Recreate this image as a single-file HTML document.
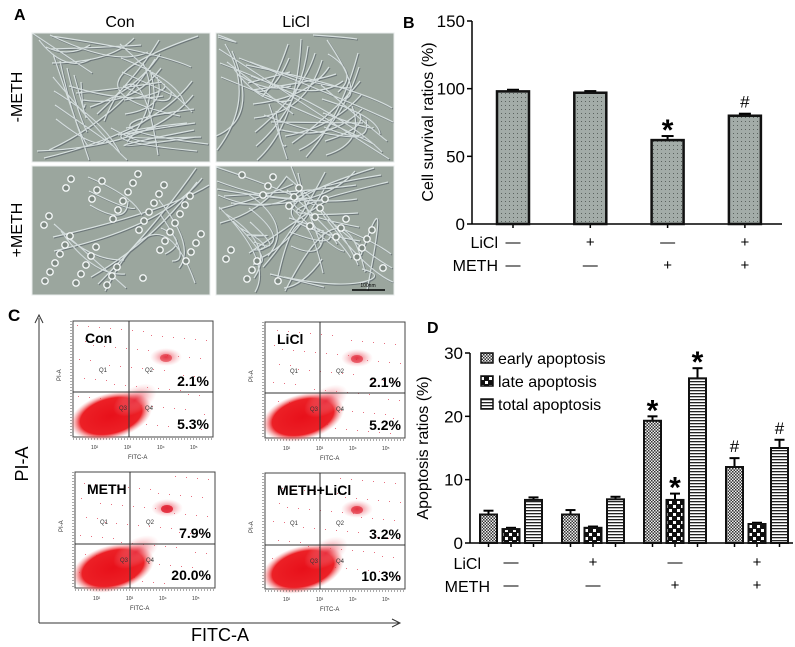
<!DOCTYPE html>
<html><head><meta charset="utf-8">
<style>
html,body{margin:0;padding:0;background:#fff;}
svg{display:block;font-family:"Liberation Sans",Arial,sans-serif;}
</style></head>
<body>
<svg id="fig" width="795" height="647" viewBox="0 0 795 647" xmlns="http://www.w3.org/2000/svg">
<defs>
  <pattern id="dots" width="4" height="4" patternUnits="userSpaceOnUse">
    <rect width="4" height="4" fill="#a3aca8"/><rect x="1" y="1" width="1" height="1" fill="#5a625e"/>
  </pattern>
  <pattern id="fine" width="3" height="3" patternUnits="userSpaceOnUse">
    <rect width="3" height="3" fill="#eee"/><rect width="1.5" height="1.5" fill="#333"/><rect x="1.5" y="1.5" width="1.5" height="1.5" fill="#333"/>
  </pattern>
  <pattern id="coarse" width="8" height="8" patternUnits="userSpaceOnUse">
    <rect width="8" height="8" fill="#111"/><rect x="1" y="1" width="3" height="3" fill="#fff"/><rect x="5" y="5" width="3" height="3" fill="#fff"/>
  </pattern>
  <pattern id="stripes" width="3" height="3" patternUnits="userSpaceOnUse">
    <rect width="3" height="3" fill="#fff"/><rect width="3" height="1.3" fill="#222"/>
  </pattern>
  <radialGradient id="blob"><stop offset="0" stop-color="#e8101a"/><stop offset="0.75" stop-color="#ec2026"/><stop offset="1" stop-color="#f39090" stop-opacity="0"/></radialGradient>
  <radialGradient id="blob2"><stop offset="0" stop-color="#e83040" stop-opacity="0.85"/><stop offset="1" stop-color="#f5a0a8" stop-opacity="0"/></radialGradient>
</defs>

<g>
  <text x="14" y="20" font-size="16" font-weight="bold">A</text>
  <text x="120" y="27" font-size="16" text-anchor="middle">Con</text>
  <text x="296" y="27" font-size="16" text-anchor="middle">LiCl</text>
  <text transform="translate(22,97) rotate(-90)" font-size="16" text-anchor="middle">-METH</text>
  <text transform="translate(22,230) rotate(-90)" font-size="16" text-anchor="middle">+METH</text>
  <g id="micro"></g>
  <line x1="352" y1="290" x2="385" y2="290" stroke="#000" stroke-width="1.5"/>
  <text x="368" y="287" font-size="5" text-anchor="middle">100nm</text>
</g>

<g id="panelB">
  <text x="403" y="28" font-size="16" font-weight="bold">B</text>
  <text transform="translate(433,122) rotate(-90)" font-size="16" text-anchor="middle">Cell survival ratios (%)</text>
</g>

<g id="panelC">
  <text x="8" y="321" font-size="17" font-weight="bold">C</text>
  <line x1="39" y1="318" x2="39" y2="623" stroke="#333" stroke-width="1"/>
  <path d="M35,323 L39,315 L43,323" fill="none" stroke="#333"/>
  <line x1="39" y1="623" x2="399" y2="623" stroke="#333" stroke-width="1"/>
  <path d="M392,619 L400,623 L392,627" fill="none" stroke="#333"/>
  <text transform="translate(28,464) rotate(-90)" font-size="18" text-anchor="middle">PI-A</text>
  <text x="220" y="641" font-size="18" text-anchor="middle">FITC-A</text>
</g>

<g id="panelD">
  <text x="427" y="333" font-size="16" font-weight="bold">D</text>
  <text transform="translate(428,448) rotate(-90)" font-size="16" text-anchor="middle">Apoptosis ratios (%)</text>
</g>
</svg>
<script>
const NS="http://www.w3.org/2000/svg";
function mk(parent,tag,attrs,text){const e=document.createElementNS(NS,tag);for(const k in attrs)e.setAttribute(k,attrs[k]);if(text!==undefined)e.textContent=text;parent.appendChild(e);return e;}

// ===== Panel B data =====
const bGroups=["Con","LiCl","METH","METH+LiCl"];
const bValues=[98,97,62,80];
const bErrors=[1.2,1.2,3,1.5];
const bMarks=["","","*","#"];
const bTicks=[0,50,100,150];
const liclRow=["\u2014","+","\u2014","+"];
const methRow=["\u2014","\u2014","+","+"];

// ===== Panel D data =====
const dGroups=["Con","LiCl","METH","METH+LiCl"];
const dSeries=["early apoptosis","late apoptosis","total apoptosis"];
const dEarly=[4.5,4.5,19.3,12];
const dLate=[2.2,2.4,6.8,3];
const dTotal=[6.8,6.9,26,15];
const dEarlyErr=[0.6,0.7,0.7,1.4];
const dLateErr=[0.2,0.2,1,0.2];
const dTotalErr=[0.4,0.4,1.6,1.3];
const dEarlyMarks=["","","*","#"];
const dLateMarks=["","","*",""];
const dTotalMarks=["","","*","#"];
const dTicks=[0,10,20,30];

// ===== Panel C data =====
const cTitles=["Con","LiCl","METH","METH+LiCl"];
const cQ2=["2.1%","2.1%","7.9%","3.2%"];
const cQ4=["5.3%","5.2%","20.0%","10.3%"];

(function(){
  const g=document.getElementById('panelB');
  const x0=472,x1=782,yTop=21,yBot=224,max=150;
  const y=v=>yBot-(v/max)*(yBot-yTop);
  const cx=i=>513+i*77.3;
  const ax=mk(g,'line',{x1:x0,y1:yTop,x2:x0,y2:yBot,stroke:'#000','stroke-width':1.5});
  
  const xa=mk(g,'line',{x1:x0,y1:yBot,x2:x1,y2:yBot,stroke:'#000','stroke-width':1.5});
  
  bTicks.forEach(t=>{
    mk(g,'line',{x1:x0-5,y1:y(t),x2:x0,y2:y(t),stroke:'#000','stroke-width':1.5});
    const tl=mk(g,'text',{x:x0-7,y:y(t)+6,'font-size':17,'text-anchor':'end'},String(t));
    
  });
  bValues.forEach((v,i)=>{
    const c=cx(i),w=32;
    mk(g,'line',{x1:c,y1:yBot,x2:c,y2:yBot+4,stroke:'#000','stroke-width':1.5});
    const ey=y(v+bErrors[i]);
    mk(g,'line',{x1:c,y1:y(v),x2:c,y2:ey,stroke:'#000','stroke-width':2});
    mk(g,'line',{x1:c-6,y1:ey,x2:c+6,y2:ey,stroke:'#000','stroke-width':2});
    const r=mk(g,'rect',{x:c-w/2,y:y(v),width:w,height:yBot-y(v),fill:'url(#dots)',stroke:'#111','stroke-width':2.5});
    
    
    if(bMarks[i]){const m=mk(g,'text',{x:c,y:ey-(bMarks[i]=='*'?-4:6),'font-size':bMarks[i]=='*'?30:17,'text-anchor':'middle','font-weight':bMarks[i]=='*'?'bold':'normal'},bMarks[i]);
      }
    const a=mk(g,'text',{x:c,y:247,'font-size':15,'text-anchor':'middle'},liclRow[i]);
    
    const b=mk(g,'text',{x:c,y:270,'font-size':15,'text-anchor':'middle'},methRow[i]);
    
  });
  const l1=mk(g,'text',{x:498,y:248,'font-size':16,'text-anchor':'end'},'LiCl');
  
  const l2=mk(g,'text',{x:498,y:271,'font-size':16,'text-anchor':'end'},'METH');
  
})();

(function(){
  const g=document.getElementById('panelD');
  const x0=470,x1=793,yTop=353,yBot=543,max=30;
  const y=v=>yBot-(v/max)*(yBot-yTop);
  const gc=i=>511+i*82;
  const ax=mk(g,'line',{x1:x0,y1:yTop,x2:x0,y2:yBot,stroke:'#000','stroke-width':1.5});
  
  const xa=mk(g,'line',{x1:x0,y1:yBot,x2:x1,y2:yBot,stroke:'#000','stroke-width':1.5});
  
  dTicks.forEach(t=>{
    mk(g,'line',{x1:x0-5,y1:y(t),x2:x0,y2:y(t),stroke:'#000','stroke-width':1.5});
    const tl=mk(g,'text',{x:x0-7,y:y(t)+6,'font-size':17,'text-anchor':'end'},String(t));
    
  });
  const series=[[dEarly,dEarlyErr,dEarlyMarks,'url(#fine)','early'],[dLate,dLateErr,dLateMarks,'url(#coarse)','late'],[dTotal,dTotalErr,dTotalMarks,'url(#stripes)','total']];
  dGroups.forEach((grp,i)=>{
    series.forEach((s,k)=>{
      const c=gc(i)+(k-1)*22.5,w=17,v=s[0][i];
      mk(g,'line',{x1:c,y1:yBot,x2:c,y2:yBot+4,stroke:'#000','stroke-width':1.5});
      const ey=y(v+s[1][i]);
      mk(g,'line',{x1:c,y1:y(v),x2:c,y2:ey,stroke:'#000','stroke-width':2});
      mk(g,'line',{x1:c-5,y1:ey,x2:c+5,y2:ey,stroke:'#000','stroke-width':2});
      const r=mk(g,'rect',{x:c-w/2,y:y(v),width:w,height:yBot-y(v),fill:s[3],stroke:'#111','stroke-width':2});
      
      
      const mkch=s[2][i];
      if(mkch){const m=mk(g,'text',{x:c,y:ey-(mkch=='*'?-4:6),'font-size':mkch=='*'?30:17,'text-anchor':'middle','font-weight':mkch=='*'?'bold':'normal'},mkch);
        }
    });
    const a=mk(g,'text',{x:gc(i),y:567,'font-size':15,'text-anchor':'middle'},liclRow[i]);
    
    const b=mk(g,'text',{x:gc(i),y:590,'font-size':15,'text-anchor':'middle'},methRow[i]);
    
  });
  const l1=mk(g,'text',{x:481,y:569,'font-size':16,'text-anchor':'end'},'LiCl');
  
  const l2=mk(g,'text',{x:490,y:592,'font-size':16,'text-anchor':'end'},'METH');
  
  dSeries.forEach((name,k)=>{
    const yy=358+k*23;
    const sw=mk(g,'rect',{x:481,y:yy-5,width:12,height:10,fill:series[k][3],stroke:'#111','stroke-width':1.5});
    
    const t=mk(g,'text',{x:498,y:yy+6,'font-size':16},name);
    
  });
})();

(function(){
  const g=document.getElementById('panelC');
  const boxes=[[73,321,129,392],[265,322,320,393],[75,472,130,544],[265,473,320,545]];
  const blobScale=[[1,0.25],[1,0.3],[1.05,0.55],[1,0.35]];
  boxes.forEach((b,i)=>{
    const [x,yy,qx,qy]=b,w=140,h=116;
    const pg=mk(g,'g',{});
    
    
    mk(pg,'rect',{x:x,y:yy,width:w,height:h,fill:'#fff',stroke:'#444','stroke-width':1});
    // sparse background events
    for(let k=0;k<70;k++){
      const px=x+4+((k*37+i*13)%(w-8)), py=yy+4+((k*59+i*23)%(h-8));
      mk(pg,'rect',{x:px,y:py,width:1,height:1,fill:'#e87080'});
    }
    mk(pg,'ellipse',{cx:x+38,cy:qy+24,rx:42,ry:23,fill:'url(#blob)',transform:`rotate(-15 ${x+38} ${qy+24})`});
    mk(pg,'ellipse',{cx:qx+6,cy:qy+8,rx:24*blobScale[i][0],ry:13,fill:'url(#blob2)',transform:`rotate(-30 ${qx+6} ${qy+8})`});
    mk(pg,'ellipse',{cx:qx+37,cy:yy+36,rx:16,ry:9,fill:'url(#blob2)'});
    mk(pg,'ellipse',{cx:qx+37,cy:yy+37,rx:6,ry:4,fill:'#e02030',opacity:blobScale[i][1]+0.3});
    mk(pg,'line',{x1:qx,y1:yy,x2:qx,y2:yy+h,stroke:'#333','stroke-width':1});
    mk(pg,'line',{x1:x,y1:qy,x2:x+w,y2:qy,stroke:'#333','stroke-width':1});
    mk(pg,'text',{x:qx-30,y:qy-20,'font-size':6,fill:'#333'},'Q1');
    mk(pg,'text',{x:qx+16,y:qy-20,'font-size':6,fill:'#333'},'Q2');
    mk(pg,'text',{x:qx-10,y:qy+18,'font-size':6,fill:'#333'},'Q3');
    mk(pg,'text',{x:qx+16,y:qy+18,'font-size':6,fill:'#333'},'Q4');
    for(let t=0;t<4;t++){mk(pg,'text',{x:x+18+t*33,y:yy+h+12,'font-size':5,fill:'#333'},'10'+['²','³','⁴','⁵'][t]);}
    mk(pg,'line',{x1:x,y1:yy+h+2,x2:x+w,y2:yy+h+2,stroke:'#555','stroke-width':1,'stroke-dasharray':'1 2'});
    mk(pg,'line',{x1:x-2,y1:yy,x2:x-2,y2:yy+h,stroke:'#555','stroke-width':1,'stroke-dasharray':'1 2'});
    mk(pg,'text',{x:x+55,y:yy+h+22,'font-size':6,fill:'#333'},'FITC-A');
    mk(pg,'text',{transform:`translate(${x-12},${yy+60}) rotate(-90)`,'font-size':6,fill:'#333'},'PI-A');
    const tt=mk(pg,'text',{x:x+12,y:yy+22,'font-size':14,'font-weight':'bold'},cTitles[i]);
    
    const q2=mk(pg,'text',{x:x+w-4,y:qy-6,'font-size':14,'font-weight':'bold','text-anchor':'end'},cQ2[i]);
    
    const q4=mk(pg,'text',{x:x+w-4,y:yy+h-8,'font-size':14,'font-weight':'bold','text-anchor':'end'},cQ4[i]);
    
  });
})();

(function(){
  const g=document.getElementById('micro');
  const panels=[[32,33,'con-minus-meth'],[216,33,'licl-minus-meth'],[32,166,'con-plus-meth'],[216,166,'licl-plus-meth']];
  panels.forEach((p,i)=>{
    const [x,y,n]=p,w=178,h=129;
    const pg=mk(g,'g',{});
    
    
    mk(pg,'rect',{x:x,y:y,width:w,height:h,fill:'#9ba69e'});
    const nl=i==2?14:40;
    let d='';
    for(let k=0;k<nl;k++){
      const sx=x+((k*37+i*11)%w), sy=y+((k*53+i*29)%h);
      const ex=x+((k*71+i*17+60)%w), ey=y+((k*23+i*41+40)%h);
      const mx=(sx+ex)/2, my=(sy+ey)/2;
      const ax=x+((mx-x+(k%5)*9)%w), ay=y+((my-y+(k%3)*12)%h);
      d+=`M${sx},${sy} Q${ax},${ay} ${ex},${ey} `;
    }
    mk(pg,'path',{d:d,fill:'none',stroke:'#4e5860','stroke-width':1.2,opacity:0.6,transform:'translate(1,1)'});
    mk(pg,'path',{d:d,fill:'none',stroke:'#e4ecec','stroke-width':1.2,opacity:0.85});
    if(i>=2){
      const nc=i==2?45:25;
      for(let k=0;k<nc;k++){
        const cx=x+8+((k*47+i*13)%(w-16)), cy=y+8+((k*31+i*7)%(h-16));
        mk(pg,'circle',{cx:cx,cy:cy,r:3.2,fill:'#7d8881',stroke:'#f2f6f6','stroke-width':1.4});
      }
    }
    mk(pg,'rect',{x:x,y:y,width:w,height:h,fill:'none',stroke:'#e8ecec','stroke-width':1});
  });
})();
</script>
</body></html>
